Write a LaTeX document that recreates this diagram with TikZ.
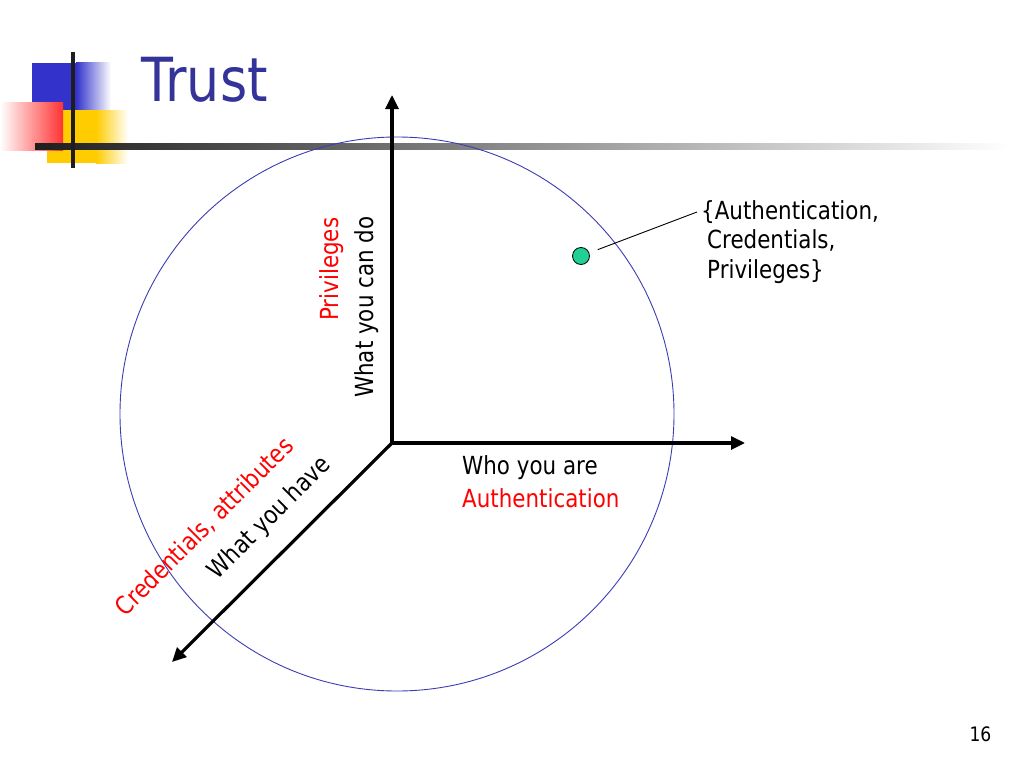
\documentclass[tikz,border=0pt]{standalone}
\usepackage{fontspec}
\setmainfont{DejaVu Sans}[FakeStretch=0.86]
\usetikzlibrary{arrows.meta}
\definecolor{titleblue}{RGB}{51,51,153}
\definecolor{logoblue}{RGB}{51,51,204}
\definecolor{logoyellow}{RGB}{255,204,0}
\definecolor{logored}{RGB}{255,51,51}
\definecolor{barblack}{RGB}{30,30,30}
\definecolor{circblue}{RGB}{60,60,180}
\definecolor{dotgreen}{RGB}{32,208,150}
\definecolor{txtred}{RGB}{255,0,0}
\tikzset{
  lbl/.style={inner sep=0pt, font=\fontsize{25}{30}\selectfont},
  axis/.style={line width=3.2bp, -{Triangle[length=14bp,width=13bp]}},
}
\begin{document}
\begin{tikzpicture}[x=1bp,y=-1bp]
\path[use as bounding box, fill=white] (0,0) rectangle (1024,768);
% logo
\fill[logoblue] (32,63) rectangle (76,110);
\shade[left color=logoblue, right color=white] (76,63) rectangle (111,110);
\fill[logoyellow] (47,110) rectangle (96,163);
\shade[left color=logoyellow, right color=white] (96,110) rectangle (128,163);
\shade[left color=white, right color=logored] (0,102) rectangle (63,150);
\shade[left color=barblack, right color=white] (35,143) rectangle (1010,149);
\fill[barblack] (71,52) rectangle (75,168);
% title
\node[anchor=base west, text=titleblue, font=\fontsize{61}{70}\selectfont, inner sep=0pt] (title) at (141,102) {Trust};
% circle
\node[circle, draw=circblue, line width=0.9bp, minimum size=554bp, inner sep=0pt] (ring) at (397,414) {};
% axes
\coordinate (O) at (392,443);
\coordinate (up) at (392,95);
\coordinate (rt) at (745,443);
\coordinate (dl) at (172,662);
\draw[axis] (O) -- (up);
\draw[axis] (O) -- (rt);
\draw[axis] (O) -- (dl);
% axis labels
\node[lbl, anchor=base west] (who) at (462,474) {Who you are};
\node[lbl, text=txtred, anchor=base west] (auth) at (462,507) {Authentication};
\node[lbl, text=txtred, rotate=90, anchor=base west] (priv) at (338,321) {Privileges};
\node[lbl, rotate=90, anchor=base west] (cando) at (373,398) {What you can do};
\node[lbl, rotate=45, anchor=base west] (have) at (217.5,580.5) {What you have};
\node[lbl, text=txtred, rotate=45, anchor=base west] (cred) at (125.5,617.5) {Credentials, attributes};
% point and callout
\node[circle, draw=black, line width=0.8bp, fill=dotgreen, minimum size=17bp, inner sep=0pt] (dot) at (581,256) {};
\coordinate (lead) at (697,212);
\draw[line width=0.9bp, shorten <=9bp] (dot) -- (lead);
\node[lbl, anchor=base west] (s1) at (701,219) {\{Authentication,};
\node[lbl, anchor=base west] (s2) at (707,248) {Credentials,};
\node[lbl, anchor=base west] (s3) at (707,278) {Privileges\}};
% page number
\node[anchor=base east, font=\fontsize{20}{24}\selectfont, inner sep=0pt] (pg) at (991.5,741.7) {16};
\end{tikzpicture}
\end{document}
